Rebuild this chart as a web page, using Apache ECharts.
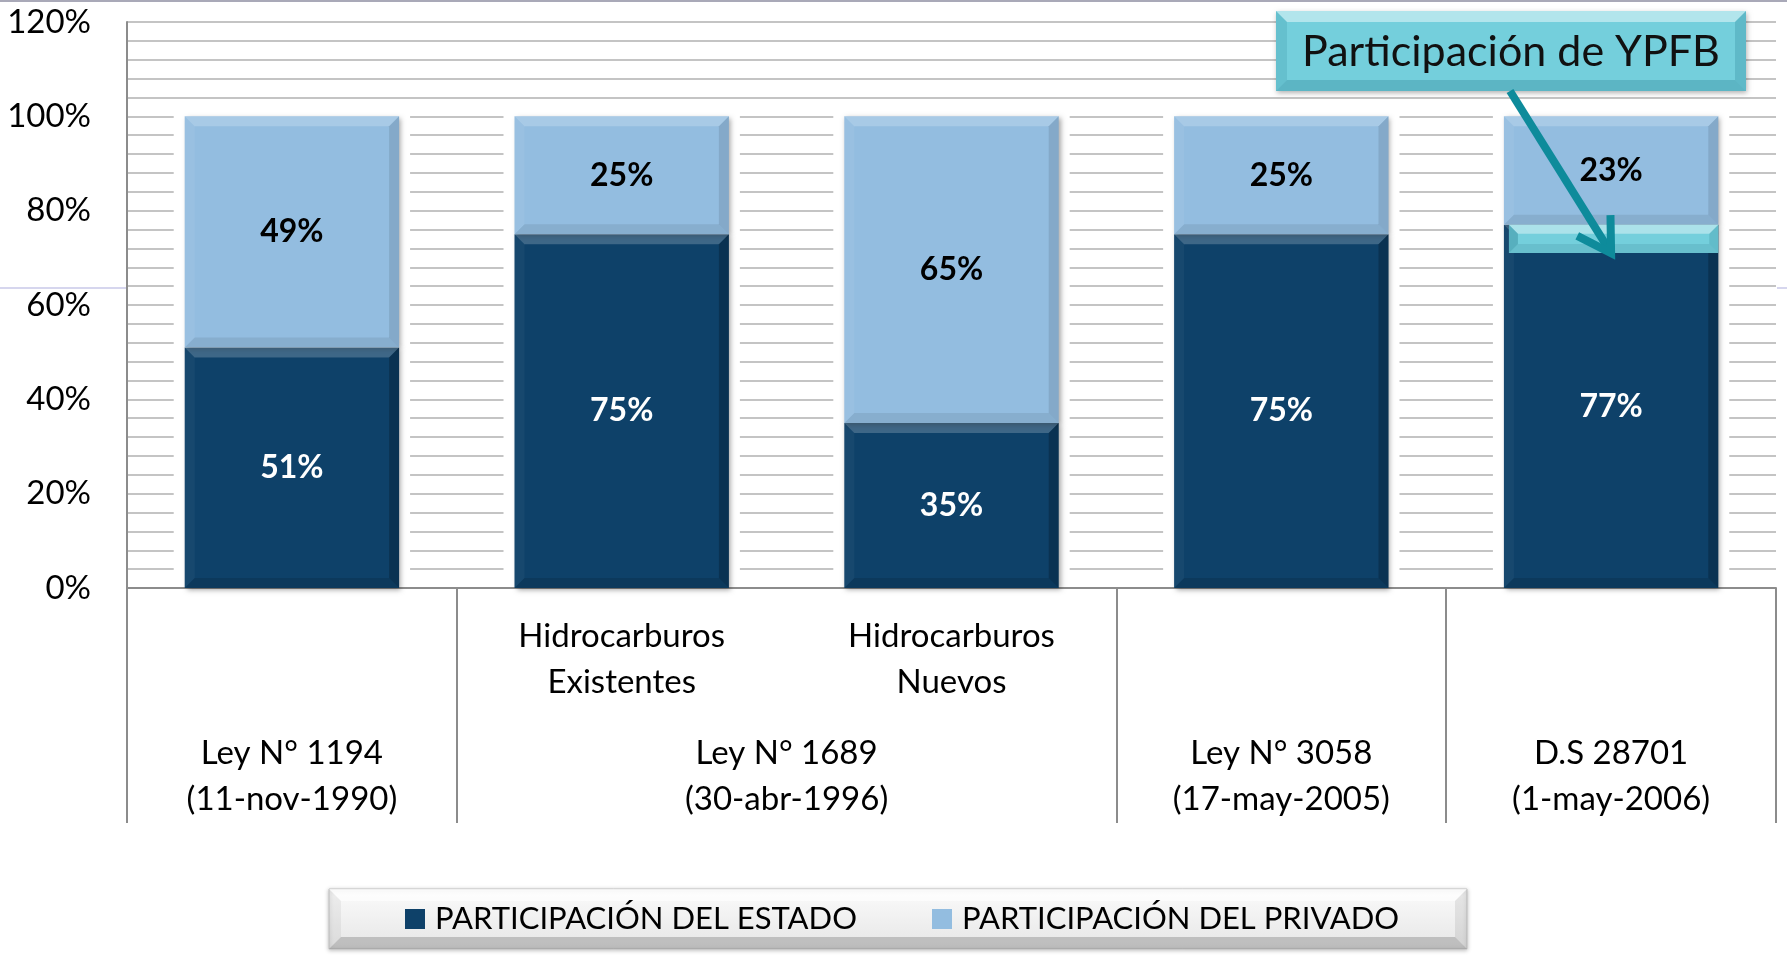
<!DOCTYPE html>
<html><head><meta charset="utf-8">
<script src="https://cdn.jsdelivr.net/npm/echarts@6/dist/echarts.min.js"></script>
<style>html,body{margin:0;padding:0;background:#fff}#c{width:1787px;height:955px}</style>
</head><body><div id="c"></div>
<script>
// ---- data ----
const categories = ['Ley N° 1194', 'Hidrocarburos Existentes', 'Hidrocarburos Nuevos', 'Ley N° 3058', 'D.S 28701'];
const subLabels = ['', 'Hidrocarburos\nExistentes', 'Hidrocarburos\nNuevos', '', ''];
const groupNames = ['Ley N° 1194\n(11-nov-1990)', 'Ley N° 1689\n(30-abr-1996)', 'Ley N° 3058\n(17-may-2005)', 'D.S 28701\n(1-may-2006)'];
const groupSpans = [1, 2, 1, 1];
const estado = [51, 75, 35, 75, 77];
const privado = [49, 25, 65, 25, 23];
const seriesNames = ['PARTICIPACIÓN DEL ESTADO', 'PARTICIPACIÓN DEL PRIVADO'];
const ypfbIndex = 4;
const ypfbRange = [71, 77];
const calloutText = 'Participación de YPFB';

// ---- derived ----
const boundaries = [0];
groupSpans.forEach(s => boundaries.push(boundaries[boundaries.length - 1] + s));
const centers = groupSpans.map((s, i) => boundaries[i] + s / 2);

const FONT = "Lato, 'Open Sans', sans-serif";
const DARK = '#0e4169';
const LIGHT = '#93bde0';
const CYAN = '#74cfdc';
const BAR_RATIO = 0.65;

const chart = echarts.init(document.getElementById('c'));

function segRect(api, i, a, b) {
  const pt = api.coord([i, b]);
  const pb = api.coord([i, a]);
  const w = api.size([1, 0])[0] * BAR_RATIO;
  return { x0: pt[0] - w / 2, x1: pt[0] + w / 2, y0: pt[1], y1: pb[1] };
}
function bevel(r, b, c, z) {
  const { x0, x1, y0, y1 } = r;
  const bb = Math.min(b, (y1 - y0) / 2, (x1 - x0) / 2);
  const zz = z || 0;
  return [
    { type: 'polygon', z: zz, shape: { points: [[x0, y0], [x1, y0], [x1 - bb, y0 + bb], [x0 + bb, y0 + bb]] }, style: { fill: c[0] } },
    { type: 'polygon', z: zz, shape: { points: [[x0, y0], [x0 + bb, y0 + bb], [x0 + bb, y1 - bb], [x0, y1]] }, style: { fill: c[1] } },
    { type: 'polygon', z: zz, shape: { points: [[x1, y0], [x1, y1], [x1 - bb, y1 - bb], [x1 - bb, y0 + bb]] }, style: { fill: c[2] } },
    { type: 'polygon', z: zz, shape: { points: [[x0, y1], [x0 + bb, y1 - bb], [x1 - bb, y1 - bb], [x1, y1]] }, style: { fill: c[3] } }
  ];
}

const totals = estado.map((e, i) => [i, e + privado[i]]);
const segments = [];
estado.forEach((e, i) => { segments.push([i, 0, e, 0]); segments.push([i, e, e + privado[i], 1]); });
const bevelColors = [
  ['rgba(255,255,255,0.2)', 'rgba(255,255,255,0.04)', 'rgba(0,0,0,0.22)', 'rgba(0,0,0,0.12)'],
  ['rgba(255,255,255,0.2)', 'rgba(255,255,255,0.06)', 'rgba(0,0,0,0.1)', 'rgba(0,0,0,0.08)']
];

const barShadow = { shadowColor: 'rgba(0,0,0,0.35)', shadowBlur: 5, shadowOffsetX: 2, shadowOffsetY: 2 };

const option = {
  animation: false,
  backgroundColor: '#fff',
  textStyle: { fontFamily: FONT },
  grid: { left: 127, right: 11, top: 22, bottom: 367, containLabel: false, outerBoundsMode: 'none' },
  legend: {
    data: seriesNames,
    left: 329, top: 889,
    padding: [10, 63, 10, 76],
    itemWidth: 20, itemHeight: 20, itemGap: 75,
    icon: 'rect',
    textStyle: { fontSize: 31, lineHeight: 40, color: '#000', fontFamily: FONT, padding: [0, 0, 0, 5] }
  },
  xAxis: [
    {
      type: 'category', data: categories, position: 'bottom',
      axisTick: { show: false },
      axisLine: { lineStyle: { color: '#8c8c8c', width: 2 } },
      axisLabel: { formatter: (v, idx) => subLabels[idx], fontSize: 33, lineHeight: 46, margin: 25, color: '#000', fontFamily: FONT, interval: 0 }
    },
    {
      type: 'value', min: 0, max: boundaries[boundaries.length - 1], position: 'bottom',
      axisLine: { show: false }, splitLine: { show: false },
      axisTick: { show: true, customValues: boundaries, length: 235, lineStyle: { color: '#8c8c8c', width: 2 } },
      axisLabel: { customValues: centers, formatter: v => groupNames[centers.indexOf(v)], margin: 142, fontSize: 33, lineHeight: 46, color: '#000', fontFamily: FONT }
    }
  ],
  yAxis: {
    type: 'value', min: 0, max: 120, interval: 20,
    axisLine: { show: true, lineStyle: { color: '#8c8c8c', width: 2 } },
    axisTick: { show: false },
    axisLabel: { formatter: '{value}%', fontSize: 33, margin: 36, color: '#000', fontFamily: FONT },
    splitLine: { show: true, lineStyle: { color: '#c4c4c4', width: 2 } },
    minorTick: { show: false, splitNumber: 5 },
    minorSplitLine: { show: true, lineStyle: { color: '#c4c4c4', width: 2 } }
  },
  series: [
    {
      type: 'custom', name: 'halo', silent: true, z: 1, xAxisIndex: 0, yAxisIndex: 0,
      data: totals, encode: { x: 0, y: 1 },
      renderItem: (params, api) => {
        const r = segRect(api, api.value(0), 0, api.value(1));
        const pad = 11;
        return { type: 'rect', shape: { x: r.x0 - pad, y: r.y0 - 3, width: r.x1 - r.x0 + 2 * pad, height: r.y1 - r.y0 + 2 }, style: { fill: '#fff' } };
      }
    },
    {
      name: seriesNames[0], type: 'bar', stack: 'total', barWidth: (BAR_RATIO * 100) + '%', z: 2,
      data: estado,
      itemStyle: Object.assign({ color: DARK }, barShadow),
      label: { show: true, position: 'inside', formatter: '{c}%', color: '#fff', fontSize: 32, fontWeight: 'bold', fontFamily: FONT }
    },
    {
      name: seriesNames[1], type: 'bar', stack: 'total', barWidth: (BAR_RATIO * 100) + '%', z: 2,
      data: privado,
      itemStyle: Object.assign({ color: LIGHT }, barShadow),
      label: { show: true, position: 'inside', formatter: '{c}%', color: '#000', fontSize: 32, fontWeight: 'bold', fontFamily: FONT }
    },
    {
      type: 'custom', name: 'bevel', silent: true, z: 3, xAxisIndex: 0, yAxisIndex: 0,
      data: segments, encode: { x: 0, y: [1, 2] },
      renderItem: (params, api) => {
        const r = segRect(api, api.value(0), api.value(1), api.value(2));
        return { type: 'group', children: bevel(r, 10, bevelColors[api.value(3)]) };
      }
    },
    {
      type: 'custom', name: 'ypfb', silent: true, z: 4, xAxisIndex: 0, yAxisIndex: 0,
      data: [[ypfbIndex, ypfbRange[0], ypfbRange[1]]], encode: { x: 0, y: [1, 2] },
      renderItem: (params, api) => {
        const r = segRect(api, api.value(0), api.value(1), api.value(2));
        r.x0 += 5;
        return { type: 'group', children: [
          { type: 'rect', shape: { x: r.x0, y: r.y0, width: r.x1 - r.x0, height: r.y1 - r.y0 }, style: { fill: CYAN } }
        ].concat(bevel(r, 9, ['rgba(255,255,255,0.4)', 'rgba(0,80,100,0.25)', 'rgba(0,80,100,0.15)', 'rgba(0,60,80,0.1)'])) };
      }
    }
  ]
};
chart.setOption(option);

// ---- annotation: callout box + arrow ----
const BX = 1276, BY = 11, BW = 470, BH = 80, BB = 11;
const tip = chart.convertToPixel({ xAxisIndex: 0, yAxisIndex: 0 }, [ypfbIndex, ypfbRange[0]]);
const start = [BX + BW / 2 - 1, BY + BH];
const dx = tip[0] - start[0], dy = tip[1] - start[1];
const len = Math.hypot(dx, dy);
const ux = dx / len, uy = dy / len;
function rot(x, y, a) { return [x * Math.cos(a) - y * Math.sin(a), x * Math.sin(a) + y * Math.cos(a)]; }
const bl = 38, ang = 31 * Math.PI / 180;
const b1 = rot(-ux, -uy, ang), b2 = rot(-ux, -uy, -ang);
const ARROW = '#0e8b9b';

const boxR = { x0: BX, x1: BX + BW, y0: BY, y1: BY + BH };
const legR = { x0: 329, x1: 1467, y0: 889, y1: 949 };

chart.setOption({
  graphic: [
    { type: 'line', z: 0, shape: { x1: 0, y1: 1, x2: 1787, y2: 1 }, style: { stroke: '#a9a9b8', lineWidth: 2 } },
    { type: 'line', z: 0, shape: { x1: 0, y1: 288, x2: 126, y2: 288 }, style: { stroke: '#c9c9e8', lineWidth: 1.5 } },
    { type: 'line', z: 0, shape: { x1: 1777, y1: 288, x2: 1787, y2: 288 }, style: { stroke: '#c9c9e8', lineWidth: 1.5 } },
    // legend box
    { type: 'group', children: [
      { type: 'rect', z: 1, shape: { x: legR.x0, y: legR.y0, width: legR.x1 - legR.x0, height: legR.y1 - legR.y0 },
        style: { fill: new echarts.graphic.LinearGradient(0, 0, 0, 1, [{ offset: 0, color: '#fbfbfb' }, { offset: 1, color: '#e6e6e6' }]), stroke: '#c4c4c4', lineWidth: 1, shadowColor: 'rgba(0,0,0,0.25)', shadowBlur: 4, shadowOffsetY: 1 } }
    ].concat(bevel(legR, 12, ['rgba(255,255,255,0.6)', 'rgba(0,0,0,0.05)', 'rgba(0,0,0,0.08)', 'rgba(0,0,0,0.18)'], 1)) },
    // callout box
    { type: 'group', children: [
      { type: 'rect', z: 50, shape: { x: BX, y: BY, width: BW, height: BH },
        style: { fill: CYAN, shadowColor: 'rgba(0,0,0,0.3)', shadowBlur: 5, shadowOffsetX: 1, shadowOffsetY: 2 } }
    ].concat(bevel(boxR, BB, ['rgba(255,255,255,0.45)', 'rgba(0,90,110,0.12)', 'rgba(0,90,110,0.18)', 'rgba(0,80,100,0.2)'], 50)).concat([
      { type: 'text', z: 51, style: { text: calloutText, x: BX + BW / 2, y: BY + BH / 2 + 1, align: 'center', verticalAlign: 'middle', fontSize: 43, fontFamily: FONT, fill: '#111' } }
    ]) },
    // arrow
    { type: 'group', children: [
      { type: 'line', z: 60, shape: { x1: start[0], y1: start[1], x2: tip[0] - ux * 4, y2: tip[1] - uy * 4 }, style: { stroke: ARROW, lineWidth: 8 } },
      { type: 'polyline', z: 60, shape: { points: [[tip[0] + b1[0] * bl, tip[1] + b1[1] * bl], [tip[0], tip[1]], [tip[0] + b2[0] * bl, tip[1] + b2[1] * bl]] },
        style: { stroke: ARROW, lineWidth: 8, lineJoin: 'miter', fill: null } }
    ] }
  ]
});
</script>
</body></html>
